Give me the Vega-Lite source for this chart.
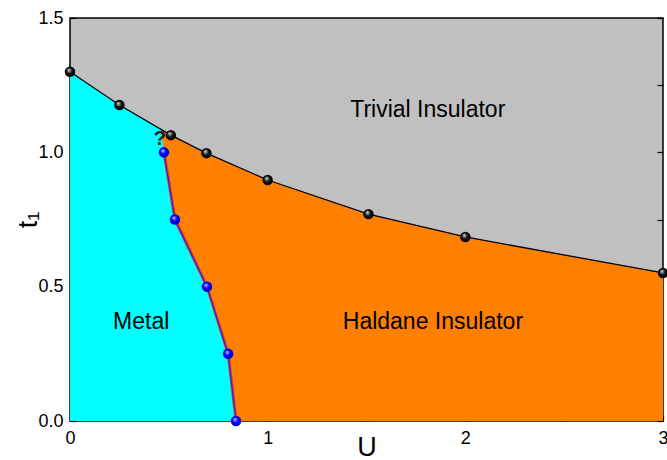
{
  "$schema": "https://vega.github.io/schema/vega-lite/v6.json",
  "width": 593,
  "height": 403,
  "autosize": {"type": "none"},
  "padding": {"left": 70, "top": 18, "right": 4, "bottom": 39},
  "background": "white",
  "config": {
    "view": {"fill": "#c0c0c0", "stroke": "black", "strokeWidth": 1.5},
    "font": "Liberation Sans",
    "axis": {"grid": false, "domain": false, "tickColor": "black", "labelColor": "black", "titleColor": "black", "labelFont": "Liberation Sans", "titleFont": "Liberation Sans", "titleFontWeight": "normal"}
  },
  "datasets": {
    "upper": [
      {"U": 0, "t": 1.3}, {"U": 0.25, "t": 1.176}, {"U": 0.51, "t": 1.064}, {"U": 0.69, "t": 0.997},
      {"U": 1.0, "t": 0.897}, {"U": 1.51, "t": 0.77}, {"U": 2.0, "t": 0.685}, {"U": 3.0, "t": 0.551}
    ],
    "metal": [
      {"U": 0.84, "t": 0}, {"U": 0.8, "t": 0.25}, {"U": 0.693, "t": 0.5}, {"U": 0.531, "t": 0.75},
      {"U": 0.475, "t": 1.0}, {"U": 0.462, "t": 1.085}, {"U": 0.25, "t": 1.176}, {"U": 0, "t": 1.3}
    ],
    "lower": [
      {"U": 0.475, "t": 1.0}, {"U": 0.531, "t": 0.75}, {"U": 0.693, "t": 0.5}, {"U": 0.8, "t": 0.25}, {"U": 0.84, "t": 0}
    ],
    "labels": [
      {"U": 1.81, "t": 1.157, "text": "Trivial Insulator"},
      {"U": 0.36, "t": 0.368, "text": "Metal"},
      {"U": 1.836, "t": 0.368, "text": "Haldane Insulator"}
    ],
    "question": [
      {"U": 0.455, "t": 1.05, "text": "?"}
    ]
  },
  "layer": [
    {
      "data": {"name": "upper"},
      "mark": {"type": "area", "color": "#ff8000", "opacity": 1},
      "encoding": {
        "x": {"field": "U", "type": "quantitative", "scale": {"domain": [0, 3], "nice": false, "zero": false},
          "axis": {"title": "U", "titleFontSize": 27, "titlePadding": -13, "labelFontSize": 18, "labelPadding": 14, "tickSize": -6, "tickWidth": 1.2,
            "values": [0, 0.5, 1, 1.5, 2, 2.5, 3], "labelExpr": "datum.value % 1 === 0 ? format(datum.value, 'd') : ''", "labelFlush": false}},
        "y": {"field": "t", "type": "quantitative", "scale": {"domain": [0, 1.5], "nice": false, "zero": false},
          "axis": {"title": "t₁", "titleFontSize": 27, "titlePadding": -5, "labelFontSize": 18, "labelPadding": 13, "tickSize": -6, "tickWidth": 1.2,
            "values": [0, 0.25, 0.5, 0.75, 1, 1.25, 1.5], "labelExpr": "(datum.value * 2) % 1 === 0 ? format(datum.value, '.1f') : ''", "labelFlush": false}},
        "y2": {"datum": 0}
      }
    },
    {
      "data": {"name": "lower"},
      "mark": {"type": "line", "color": "#ff4000", "strokeWidth": 3},
      "encoding": {
        "x": {"field": "U", "type": "quantitative"},
        "y": {"field": "t", "type": "quantitative",
          "axis": {"orient": "right", "labels": false, "title": null, "tickSize": -6, "tickWidth": 1.2, "values": [0, 0.25, 0.5, 0.75, 1, 1.25, 1.5]}},
        "order": {"field": "t", "type": "quantitative", "sort": "descending"}
      }
    },
    {
      "data": {"name": "metal"},
      "mark": {"type": "area", "orient": "horizontal", "color": "#00ffff", "opacity": 1},
      "encoding": {
        "y": {"field": "t", "type": "quantitative", "axis": null},
        "x": {"field": "U", "type": "quantitative", "stack": null}
      }
    },
    {
      "data": {"name": "upper"},
      "mark": {"type": "line", "color": "black", "strokeWidth": 1.3},
      "encoding": {
        "x": {"field": "U", "type": "quantitative"},
        "y": {"field": "t", "type": "quantitative", "axis": null}
      }
    },
    {
      "data": {"name": "lower"},
      "mark": {"type": "line", "color": "#ff4000", "strokeWidth": 3},
      "encoding": {
        "x": {"field": "U", "type": "quantitative"},
        "y": {"field": "t", "type": "quantitative", "axis": null},
        "order": {"field": "t", "type": "quantitative", "sort": "descending"}
      }
    },
    {
      "data": {"name": "lower"},
      "mark": {"type": "line", "color": "#2020ff", "strokeWidth": 1.3},
      "encoding": {
        "x": {"field": "U", "type": "quantitative"},
        "y": {"field": "t", "type": "quantitative", "axis": null},
        "order": {"field": "t", "type": "quantitative", "sort": "descending"}
      }
    },
    {
      "data": {"name": "labels"},
      "mark": {"type": "text", "fontSize": 23, "font": "Liberation Sans", "color": "black"},
      "encoding": {
        "x": {"field": "U", "type": "quantitative"},
        "y": {"field": "t", "type": "quantitative", "axis": null},
        "text": {"field": "text"}
      }
    },
    {
      "data": {"name": "question"},
      "mark": {"type": "text", "fontSize": 20, "fontWeight": "bold", "font": "Liberation Sans", "color": "#202020"},
      "encoding": {
        "x": {"field": "U", "type": "quantitative"},
        "y": {"field": "t", "type": "quantitative", "axis": null},
        "text": {"field": "text"}
      }
    },
    {
      "data": {"name": "upper"},
      "mark": {"type": "point", "filled": true, "size": 110, "opacity": 1, "clip": false, "stroke": null,
        "fill": {"gradient": "radial", "x1": 0.38, "y1": 0.32, "r1": 0, "x2": 0.5, "y2": 0.5, "r2": 0.55,
          "stops": [{"offset": 0, "color": "#ffffff"}, {"offset": 0.18, "color": "#999999"}, {"offset": 0.5, "color": "#111111"}, {"offset": 1, "color": "#000000"}]}},
      "encoding": {
        "x": {"field": "U", "type": "quantitative"},
        "y": {"field": "t", "type": "quantitative", "axis": null}
      }
    },
    {
      "data": {"name": "lower"},
      "mark": {"type": "point", "filled": true, "size": 110, "opacity": 1, "clip": false, "stroke": null,
        "fill": {"gradient": "radial", "x1": 0.38, "y1": 0.32, "r1": 0, "x2": 0.5, "y2": 0.5, "r2": 0.55,
          "stops": [{"offset": 0, "color": "#ffffff"}, {"offset": 0.2, "color": "#7070ff"}, {"offset": 0.5, "color": "#0000ff"}, {"offset": 1, "color": "#0000b0"}]}},
      "encoding": {
        "x": {"field": "U", "type": "quantitative"},
        "y": {"field": "t", "type": "quantitative", "axis": null}
      }
    }
  ],
  "resolve": {"axis": {"y": "independent"}}
}
